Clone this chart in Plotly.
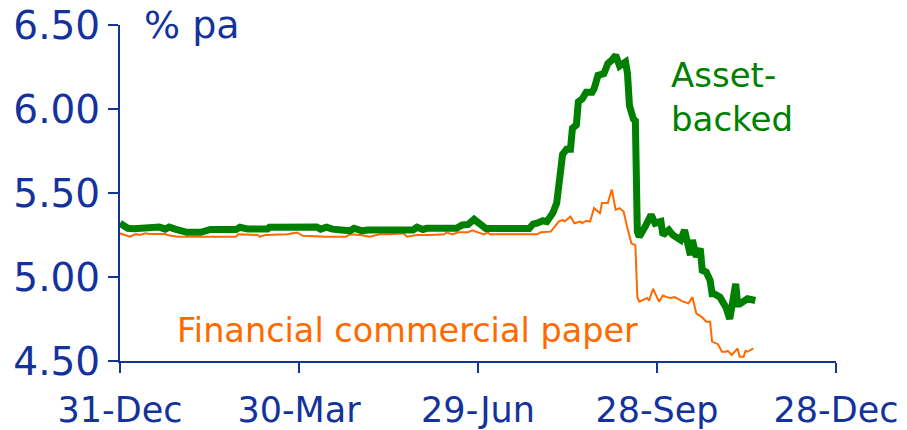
import pandas as pd
import plotly.graph_objects as go

BASE_DATE = "2006-12-29"

# Asset-backed commercial paper yield (% pa), days since base date
abcp_days = [0, 4, 7, 19, 20, 23, 25, 28, 34, 41, 44, 46, 59, 61, 65, 75, 76, 88, 90, 93,
             100, 102, 105, 108, 115, 117, 119, 123, 126, 149, 151, 154, 156, 171, 174, 177,
             180, 183, 186, 208, 210, 212, 215, 217, 220, 222, 224, 225, 227, 229, 230, 232,
             233, 235, 237, 240, 241, 243, 246, 248, 250, 252, 254, 257, 258, 259, 261, 262,
             263, 264, 267, 268, 270, 272, 275, 276, 279, 281, 285, 287, 290, 291, 293, 295,
             296, 298, 300, 301, 302, 305, 308, 310, 311, 313, 314, 315, 319, 321, 323]
abcp_vals = [5.32, 5.29, 5.288, 5.288, 5.297, 5.285, 5.297, 5.285, 5.266, 5.266, 5.278, 5.283,
             5.283, 5.296, 5.285, 5.285, 5.296, 5.296, 5.303, 5.297, 5.297, 5.285, 5.296, 5.285,
             5.285, 5.275, 5.29, 5.275, 5.28, 5.28, 5.296, 5.283, 5.29, 5.29, 5.31, 5.313,
             5.343, 5.32, 5.288, 5.288, 5.315, 5.32, 5.335, 5.33, 5.38, 5.44, 5.68, 5.73,
             5.76, 5.76, 5.885, 5.905, 6.043, 6.06, 6.10, 6.10, 6.12, 6.20, 6.21, 6.27,
             6.29, 6.32, 6.256, 6.28, 6.21, 6.02, 5.94, 5.93, 5.27, 5.24, 5.30, 5.32,
             5.37, 5.32, 5.33, 5.25, 5.28, 5.25, 5.22, 5.28, 5.13, 5.22, 5.12, 5.17,
             5.04, 5.03, 4.98, 4.90, 4.90, 4.88, 4.82, 4.75, 4.83, 4.96, 4.84, 4.84,
             4.87, 4.865, 4.86]

# Financial commercial paper yield (% pa)
fcp_days = [0, 3, 5, 8, 10, 13, 15, 23, 24, 27, 29, 59, 60, 70, 71, 74, 85, 90, 93, 105,
            115, 117, 122, 127, 132, 137, 144, 146, 151, 158, 165, 166, 169, 172, 177, 179,
            182, 185, 187, 188, 212, 214, 219, 221, 223, 225, 226, 229, 231, 234, 235, 237,
            239, 241, 244, 245, 248, 250, 252, 254, 256, 258, 260, 262, 263, 264, 267, 268,
            269, 271, 274, 276, 278, 280, 282, 286, 289, 291, 293, 296, 298, 300, 301, 304,
            306, 308, 309, 311, 314, 315, 317, 318, 319, 322]
fcp_vals = [5.26, 5.25, 5.24, 5.256, 5.25, 5.26, 5.256, 5.256, 5.25, 5.244, 5.24, 5.24,
            5.255, 5.25, 5.24, 5.25, 5.255, 5.265, 5.245, 5.24, 5.24, 5.255, 5.25, 5.24,
            5.255, 5.255, 5.26, 5.24, 5.25, 5.25, 5.254, 5.266, 5.254, 5.266, 5.266, 5.278,
            5.266, 5.254, 5.266, 5.254, 5.254, 5.266, 5.27, 5.30, 5.33, 5.34, 5.33, 5.36,
            5.32, 5.33, 5.32, 5.335, 5.33, 5.41, 5.38, 5.44, 5.44, 5.52, 5.40, 5.41,
            5.39, 5.29, 5.20, 5.19, 4.88, 4.853, 4.873, 4.875, 4.86, 4.93, 4.853, 4.89,
            4.88, 4.875, 4.88, 4.855, 4.843, 4.88, 4.783, 4.76, 4.734, 4.734, 4.615, 4.60,
            4.555, 4.555, 4.56, 4.536, 4.575, 4.525, 4.525, 4.56, 4.555, 4.575]

tick_dates = ["2006-12-29", "2007-03-30", "2007-06-29", "2007-09-28", "2007-12-28"]
tick_labels = ["31-Dec", "30-Mar", "29-Jun", "28-Sep", "28-Dec"]
y_ticks = [4.5, 5.0, 5.5, 6.0, 6.5]

base = pd.Timestamp(BASE_DATE)
abcp_dates = base + pd.to_timedelta(abcp_days, unit="D")
fcp_dates = base + pd.to_timedelta(fcp_days, unit="D")

AXIS_BLUE = "#14329c"
FONT = "DejaVu Sans"

fig = go.Figure()
fig.add_trace(go.Scatter(x=fcp_dates, y=fcp_vals, mode="lines",
                         line=dict(color="#ff6a00", width=2), name="Financial commercial paper"))
fig.add_trace(go.Scatter(x=abcp_dates, y=abcp_vals, mode="lines",
                         line=dict(color="#008000", width=7), name="Asset-backed"))

# page body has an 8px margin, so the figure is sized/placed to compensate
fig.update_layout(
    width=899, height=422,
    margin=dict(l=112, r=71, t=17, b=69),
    paper_bgcolor="white", plot_bgcolor="white",
    showlegend=False,
    font=dict(family=FONT, color=AXIS_BLUE, size=30),
    xaxis=dict(type="date", range=[tick_dates[0], tick_dates[-1]],
               tickvals=tick_dates, ticktext=tick_labels,
               showgrid=False, zeroline=False, showline=True, automargin=False,
               linecolor=AXIS_BLUE, linewidth=2,
               ticks="outside", ticklen=10, tickwidth=2, tickcolor=AXIS_BLUE,
               tickfont=dict(family=FONT, size=35, color=AXIS_BLUE),
               ticklabelstandoff=7, ticklabeloverflow="allow"),
    yaxis=dict(range=[4.5, 6.5], tickvals=y_ticks, tickformat=".2f",
               showgrid=False, zeroline=False, showline=True, automargin=False,
               linecolor=AXIS_BLUE, linewidth=2,
               ticks="outside", ticklen=10, tickwidth=2, tickcolor=AXIS_BLUE,
               tickfont=dict(family=FONT, size=39, color=AXIS_BLUE),
               ticklabelstandoff=0, ticklabeloverflow="allow"),
    annotations=[
        dict(text="% pa", xref="paper", yref="paper", x=0.031, y=1.0,
             xanchor="left", yanchor="middle", showarrow=False,
             font=dict(family=FONT, size=38, color=AXIS_BLUE)),
        dict(text="Asset-<br>backed", xref="paper", yref="paper", x=0.767, y=0.786,
             xanchor="left", yanchor="middle", showarrow=False, align="left",
             font=dict(family=FONT, size=34, color="#008000")),
        dict(text="Financial commercial paper", xref="paper", yref="paper", x=0.077, y=0.092,
             xanchor="left", yanchor="middle", showarrow=False,
             font=dict(family=FONT, size=33.5, color="#ff6a00")),
    ],
)

fig.write_html("out.html")
